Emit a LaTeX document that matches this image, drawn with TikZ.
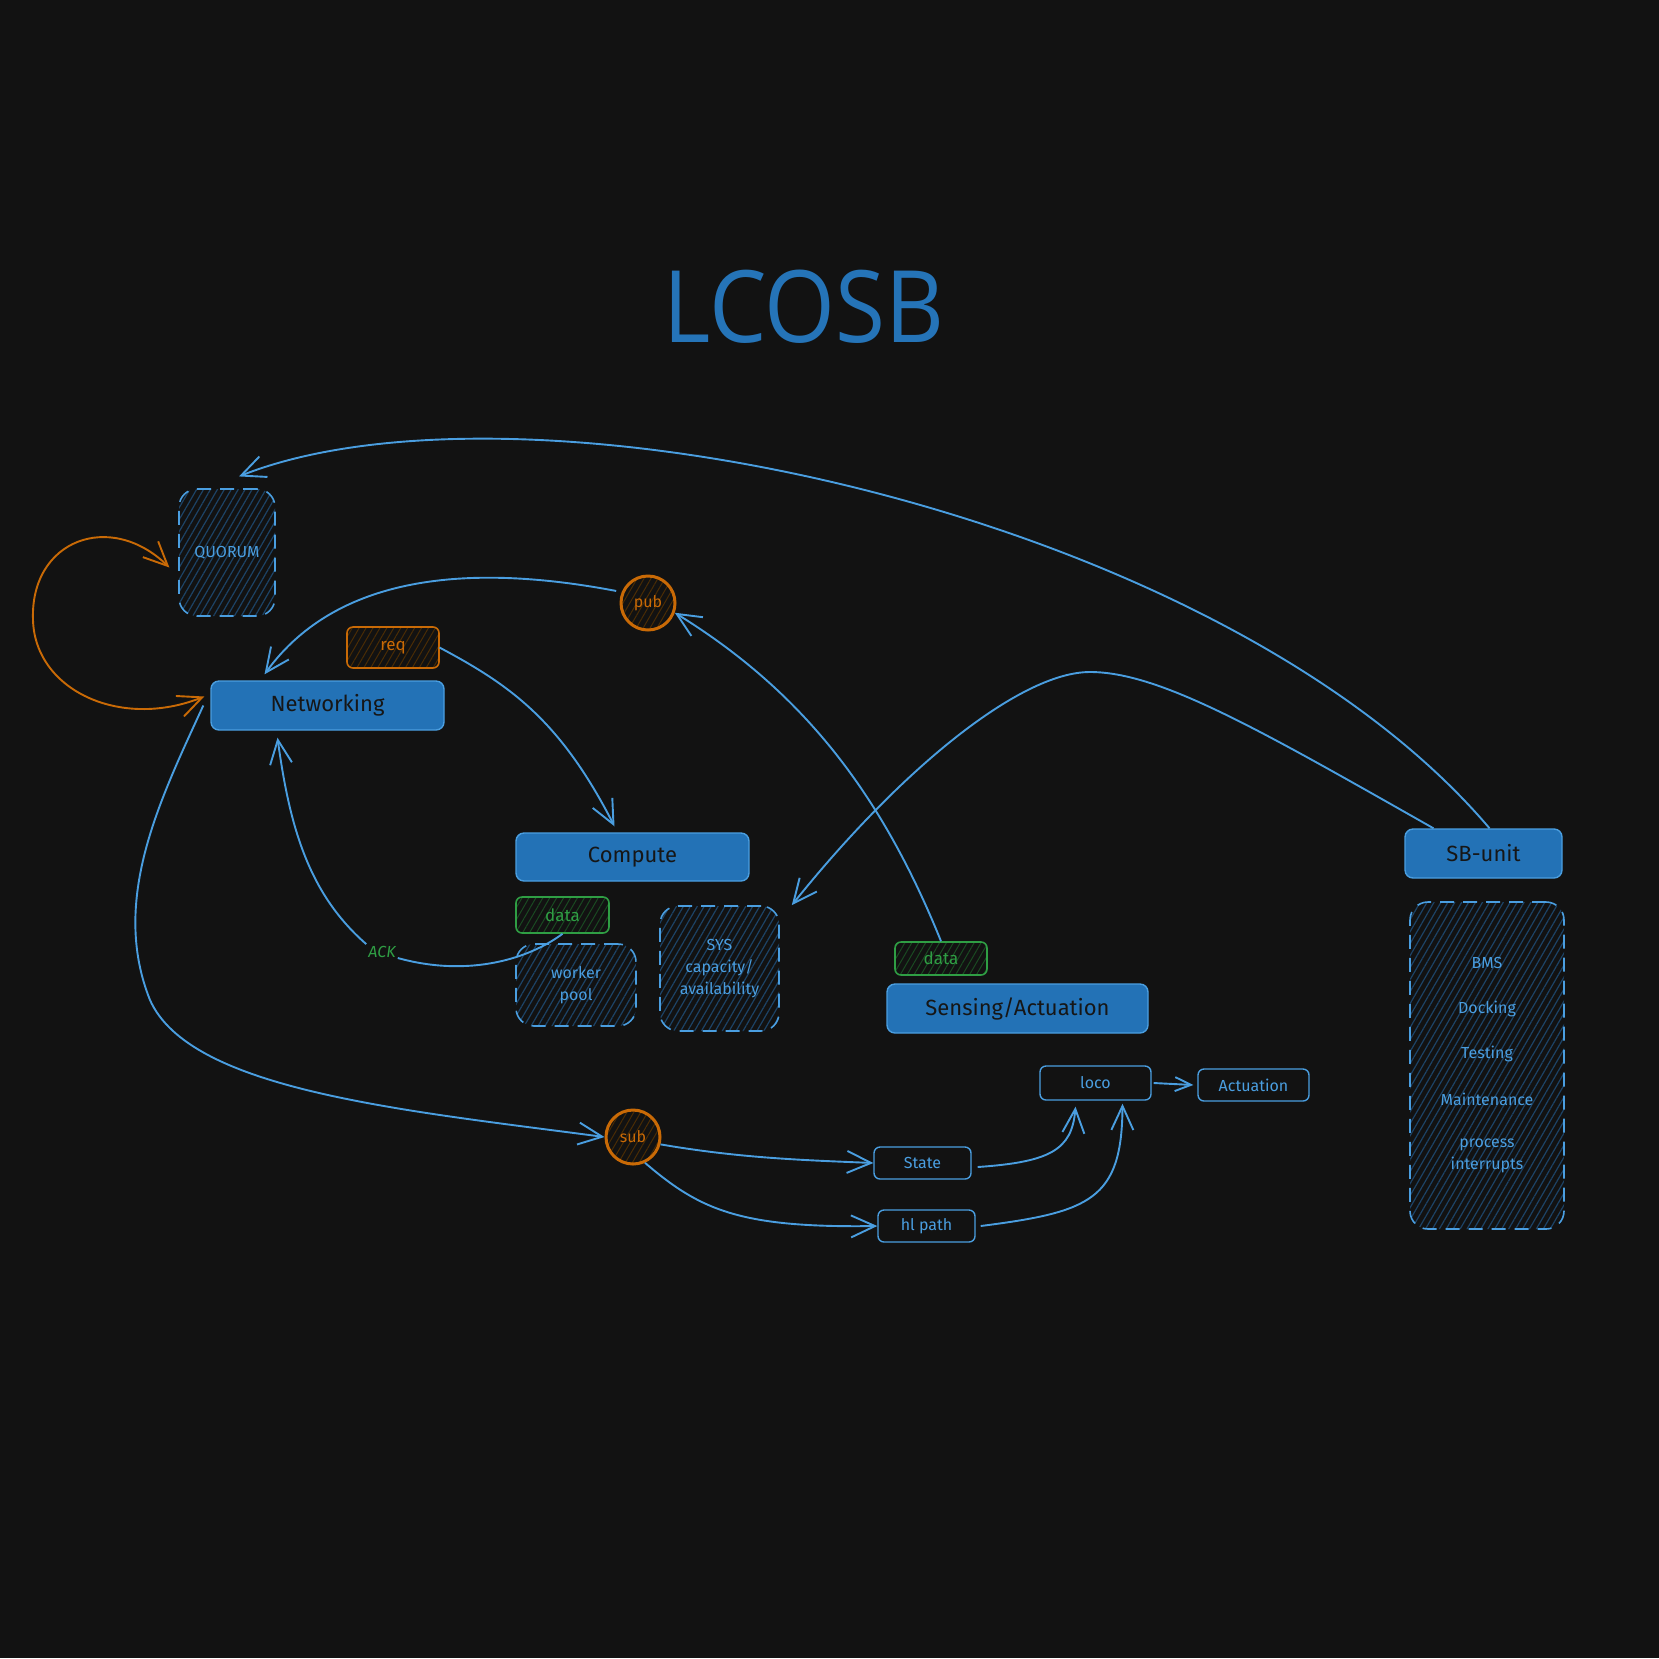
\documentclass[tikz,border=0pt]{standalone}
\usepackage{fontspec}
\setmainfont{Fira Sans}
\newfontfamily\titlefont{Open Sans}
\usetikzlibrary{arrows.meta,patterns.meta,shapes.geometric}
\definecolor{bg}{HTML}{121212}
\definecolor{lblue}{HTML}{4A9EE0}
\definecolor{fblue}{HTML}{2372B6}
\definecolor{hblue}{HTML}{1D4366}
\definecolor{orng}{HTML}{C96A06}
\definecolor{horng}{HTML}{4A2C05}
\definecolor{grn}{HTML}{2F9E44}
\definecolor{hgrn}{HTML}{1A4A22}
\definecolor{ttl}{HTML}{2574B8}
\definecolor{dtxt}{HTML}{161616}
\tikzset{
  solidbox/.style={draw=lblue, fill=fblue, line width=1.4pt, rounded corners=8pt,
    text=dtxt, inner sep=0pt, font=\fontsize{22}{24}\selectfont},
  dashbox/.style={draw=lblue, dash pattern=on 14pt off 9pt, line width=1.6pt,
    rounded corners=18pt, pattern={Lines[angle=60,distance=6pt,line width=1.2pt]},
    pattern color=hblue, text=lblue, align=center, inner sep=0pt,
    font=\fontsize{16}{22}\selectfont},
  orngtag/.style={draw=orng, line width=1.6pt, rounded corners=6pt,
    pattern={Lines[angle=60,distance=6pt,line width=1pt]}, pattern color=horng,
    text=orng, inner sep=0pt, font=\fontsize{17}{20}\selectfont},
  grntag/.style={draw=grn, line width=1.6pt, rounded corners=6pt,
    pattern={Lines[angle=60,distance=6pt,line width=1pt]}, pattern color=hgrn,
    text=grn, inner sep=0pt, font=\fontsize{17}{20}\selectfont},
  plainbox/.style={draw=lblue, line width=1.4pt, rounded corners=6pt, text=lblue,
    inner sep=0pt, font=\fontsize{16}{20}\selectfont},
  orngcirc/.style={circle, draw=orng, line width=3pt, minimum size=54pt,
    pattern={Lines[angle=60,distance=6pt,line width=1pt]}, pattern color=horng,
    text=orng, inner sep=0pt, font=\fontsize{16}{20}\selectfont},
  conn/.style={draw=lblue, line width=1.9pt, -{Straight Barb[length=24pt,width=22pt]}},
  oconn/.style={draw=orng, line width=1.9pt,
    {Straight Barb[length=24pt,width=22pt]}-{Straight Barb[length=24pt,width=22pt]}},
}
\begin{document}
\begin{tikzpicture}[x=1pt,y=-1pt]
\fill[bg] (0,0) rectangle (1659,1658);
\useasboundingbox (0,0) rectangle (1659,1658);

\node[text=ttl, xscale=0.91, font=\titlefont\fontsize{100}{110}\selectfont] (title) at (804,307) {LCOSB};

\node[dashbox, minimum width=96pt, minimum height=127pt] (quorum) at (227,552.5) {QUORUM};
\node[solidbox, minimum width=233pt, minimum height=49pt] (net) at (327.5,705.5) {Networking};
\node[orngtag, minimum width=92pt, minimum height=41pt] (req) at (393,647.5) {req};
\node[orngcirc] (pub) at (648,603) {pub};
\node[solidbox, minimum width=233pt, minimum height=48pt] (compute) at (632.5,857) {Compute};
\node[grntag, minimum width=93pt, minimum height=36pt] (data1) at (562.5,915) {data};
\node[dashbox, minimum width=120pt, minimum height=82pt] (worker) at (576,985) {worker\\pool};
\node[dashbox, minimum width=119pt, minimum height=125pt] (sys) at (719.5,968.5) {SYS\\capacity/\\availability};
\node[grntag, minimum width=92pt, minimum height=33pt] (data2) at (941,958.5) {data};
\node[solidbox, minimum width=261pt, minimum height=49pt] (sensing) at (1017.5,1008.5) {Sensing/Actuation};
\node[solidbox, minimum width=157pt, minimum height=49pt] (sbunit) at (1483.5,853.5) {SB-unit};
\node[dashbox, minimum width=154pt, minimum height=327pt] (sblist) at (1487,1065.5) {};
\node[text=lblue, font=\fontsize{16}{20}\selectfont] (bms) at (1487,963) {BMS};
\node[text=lblue, font=\fontsize{16}{20}\selectfont] (dock) at (1487,1009) {Docking};
\node[text=lblue, font=\fontsize{16}{20}\selectfont] (test) at (1487,1054) {Testing};
\node[text=lblue, font=\fontsize{16}{20}\selectfont] (maint) at (1487,1099) {Maintenance};
\node[text=lblue, align=center, font=\fontsize{16}{22}\selectfont] (proc) at (1487,1156) {process\\interrupts};
\node[plainbox, minimum width=111pt, minimum height=34pt] (loco) at (1095.5,1083) {loco};
\node[plainbox, minimum width=111pt, minimum height=32pt] (act) at (1253.5,1085) {Actuation};
\node[plainbox, minimum width=97pt, minimum height=32pt] (state) at (922.5,1163) {State};
\node[plainbox, minimum width=97pt, minimum height=32pt] (hl) at (926.5,1226) {hl path};
\node[orngcirc] (sub) at (633,1137) {sub};
\node[text=grn, inner sep=2pt, font=\fontsize{16}{20}\selectfont\itshape] (ack) at (382,952) {ACK};

% connectors
\draw[conn] ([xshift=6pt]sbunit.north) .. controls (1220,510) and (520,365) .. ([xshift=12pt,yshift=12pt]quorum.north);
\draw[conn] ([xshift=-50pt]sbunit.north) .. controls (1260,730) and (1160,672) .. (1090,672)
   .. controls (1020,672) and (900,770) .. ([xshift=12pt]sys.north east);
\draw[conn] (data2.north) .. controls (880,790) and (800,690) .. (pub.-20);
\draw[conn] ([xshift=-6pt]pub.155) .. controls (480,565) and (340,570) .. ([xshift=-63pt,yshift=6pt]net.north);
\draw[conn] (req.east) .. controls (510,685) and (560,720) .. ([xshift=-18pt,yshift=6pt]compute.north);
\draw[conn] (ack.north west) .. controls (310,895) and (290,830) .. ([xshift=-50pt,yshift=-7pt]net.south);
\draw[draw=lblue, line width=1.9pt] (data1.south) .. controls (530,958) and (470,978) .. ([yshift=-6pt]ack.east);
\draw[conn] ([xshift=-7pt]net.west) .. controls (160,800) and (110,900) .. (150,1000)
   .. controls (190,1090) and (400,1110) .. (sub.west);
\draw[oconn] ([xshift=-6pt,yshift=9pt]net.west) .. controls (120,730) and (35,690) .. (33,620)
   .. controls (30,540) and (110,510) .. ([xshift=-9pt,yshift=-15pt]quorum.west);
\draw[conn] (sub.-15) .. controls (740,1158) and (800,1160) .. (state.west);
\draw[conn] (sub.-65) .. controls (700,1210) and (740,1228) .. (hl.west);
\draw[conn] ([xshift=6pt,yshift=-4pt]state.east) .. controls (1050,1162) and (1072,1150) .. ([xshift=-20pt,yshift=-6pt]loco.south);
\draw[conn] ([xshift=5pt]hl.east) .. controls (1090,1212) and (1122,1200) .. ([xshift=27pt,yshift=-3pt]loco.south);
\draw[draw=lblue, line width=1.9pt, -{Straight Barb[length=16pt,width=14pt]}] ([xshift=2pt]loco.east) -- ([xshift=-4pt]act.west);
\end{tikzpicture}
\end{document}
